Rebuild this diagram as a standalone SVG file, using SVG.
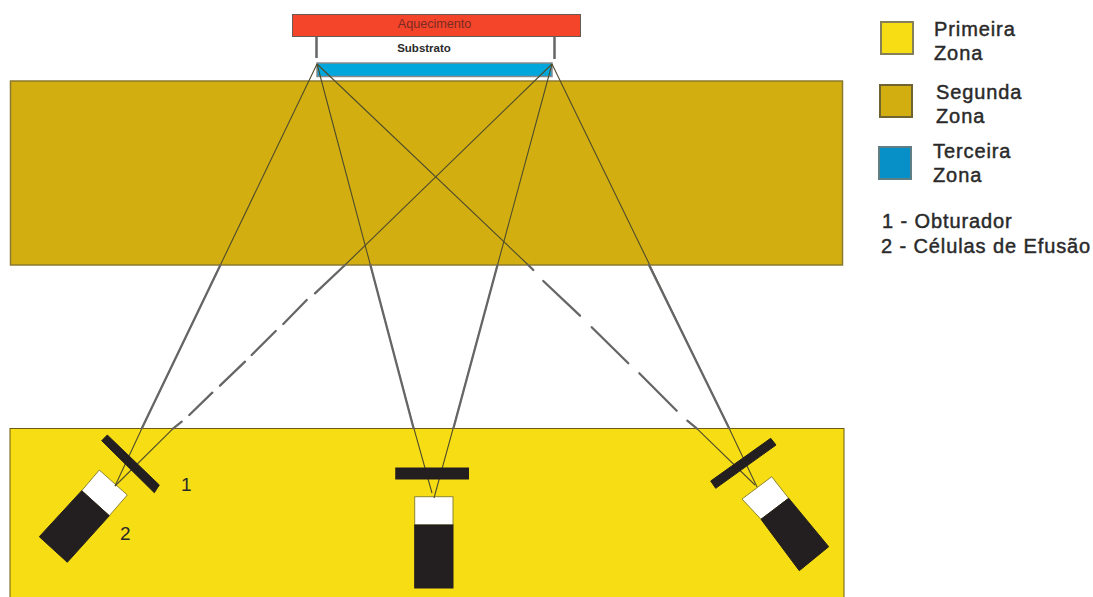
<svg xmlns="http://www.w3.org/2000/svg" width="1093" height="597" viewBox="0 0 1093 597">
<style>
text{font-family:"Liberation Sans",Arial,sans-serif;fill:#2a2a2a}
.lg{font-size:20px;letter-spacing:.9px;stroke:#2a2a2a;stroke-width:.45px}
.num{font-size:19px}
.key{stroke-width:2}
.blk{fill:#231f20;stroke:#231f20;stroke-width:1}
.wht{fill:#fff;stroke:#8f8530;stroke-width:1}
.thin{fill:none;stroke:#4f4c2c;stroke-width:1.100}
.thick{fill:none;stroke:#666;stroke-width:2.300;stroke-linecap:round}
</style>
<rect width="1093" height="597" fill="#fff"/>
<g id="zona1"><rect x="10" y="428.500" width="834" height="170" fill="#f7dd14" stroke="#6b5a10" stroke-width="1"/></g>
<g id="zona2"><rect x="10.500" y="81" width="832" height="184" fill="#d2ae10" stroke="#8a7a30" stroke-width="1.500"/></g>
<g id="aquecimento"><rect x="292.500" y="14.500" width="288" height="22" fill="#f4442a" stroke="#6a5a55" stroke-width="1"/><text x="434.500" y="28" text-anchor="middle" font-size="12.600" style="fill:#7a2b22">Aquecimento</text></g>
<g id="substrato"><path d="M316.500 37V58M554.500 37V59" fill="none" stroke="#666" stroke-width="2.500"/><text x="424" y="52" text-anchor="middle" font-size="11.500" font-weight="bold">Substrato</text></g>
<g id="zona3"><rect x="317" y="63" width="235" height="13.500" fill="#00a7dc" stroke="#8a8a8a" stroke-width="1.500"/></g>
<g id="celula-esquerda"><path class="wht" d="M99.300 470L127.300 495L109.300 515.700L81.700 490.700Z"/><path class="blk" d="M81.700 490.700L109.300 515.700L67.300 562.300L39.300 536.700Z"/></g>
<g id="celula-centro"><rect class="wht" x="414.700" y="496.700" width="38.300" height="28.300"/><rect class="blk" x="414.700" y="525" width="38.300" height="63"/></g>
<g id="celula-direita"><path class="wht" d="M771.700 476.700L788.700 498.300L761 519.300L742 499Z"/><path class="blk" d="M761 519.300L788.700 498.300L828.700 546.700L799.300 570.700Z"/></g>
<g id="conectores">
<path class="thin" d="M317 64L145 421.700L115 486"/>
<path class="thin" d="M317 64L412 421.700L432 493"/>
<path class="thin" d="M552 64L455 421.700L434 498"/>
<path class="thin" d="M552 64L729 428L757 487"/>
<path class="thin" d="M552 64L345 265M173.300 428.300L115 486"/>
<path class="thin" d="M317 64L528.300 265M696.700 428.300L755 485"/>
<path class="thick" d="M220.400 265L142 428M370.400 265L413.500 428M497.500 265L453.500 428M649 265L729 428"/>
<path class="thick" d="M345 265L315 293.300M306.700 300L283.300 324M275.700 331L251.700 355M245 361.700L220 385.700M212.300 392.700L189.300 415M181.700 421.700L173.300 428.300"/>
<path class="thick" d="M528.300 265L533.300 270M543.300 281L580 315.700M591.700 327.300L628.300 363.300M639.300 373.300L676.700 410.700M687.300 420.700L696.700 428.300"/>
</g>
<g id="obturador-esquerda"><path class="blk" d="M101.700 440.700L107.300 435L159.300 485L154.300 492.700Z"/></g>
<g id="obturador-centro"><rect class="blk" x="395.800" y="468" width="72.700" height="11"/></g>
<g id="obturador-direita"><path class="blk" d="M710.700 481L770.700 438.300L776 445L715.700 488.300Z"/></g>
<text class="num" x="181" y="491">1</text>
<text class="num" x="120" y="540">2</text>
<g id="legenda">
<rect class="key" x="881" y="22" width="32" height="32" fill="#f7dd14" stroke="#85805a"/>
<rect class="key" x="880" y="85" width="32" height="32" fill="#d2ae10" stroke="#6f6330"/>
<rect class="key" x="879" y="147" width="32" height="32" fill="#0790c8" stroke="#5f7f85"/>
<text class="lg" x="934" y="36">Primeira</text><text class="lg" x="934" y="60">Zona</text>
<text class="lg" x="936" y="99">Segunda</text><text class="lg" x="936" y="123">Zona</text>
<text class="lg" x="933" y="158">Terceira</text><text class="lg" x="933" y="182">Zona</text>
<text class="lg" x="882" y="228">1 - Obturador</text>
<text class="lg" x="881" y="253">2 - Células de Efusão</text>
</g>
</svg>
